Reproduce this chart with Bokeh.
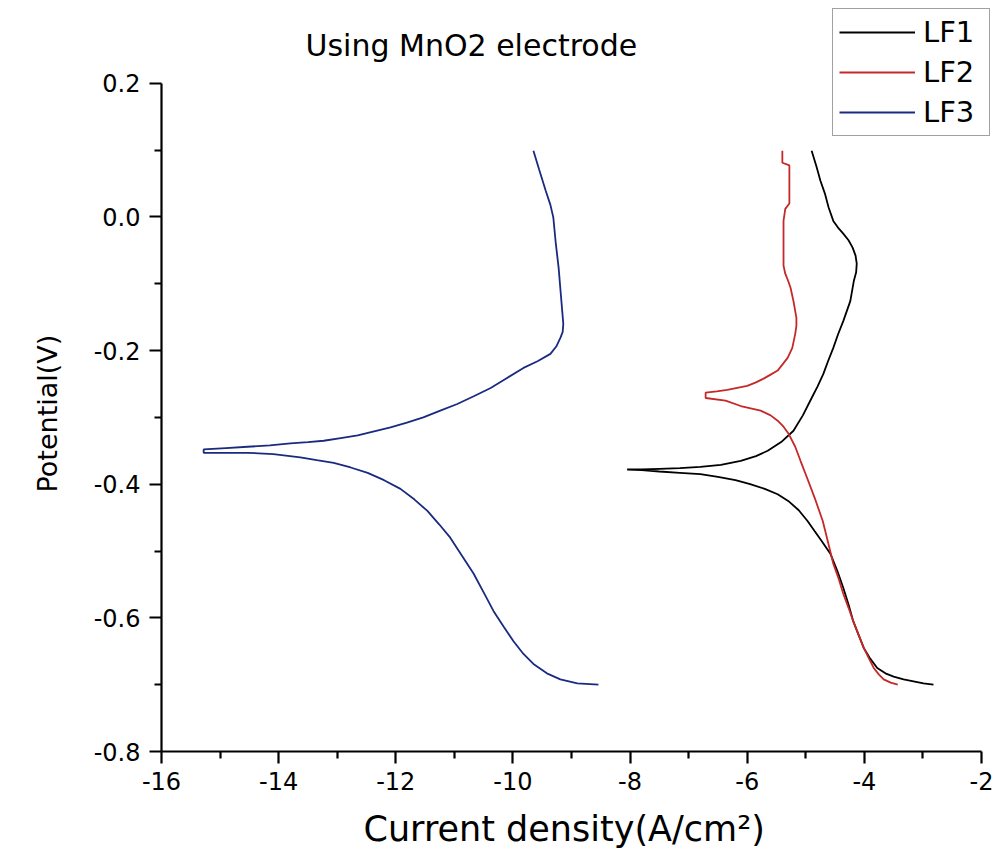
from bokeh.plotting import figure
from bokeh.models import FixedTicker, PrintfTickFormatter, Legend, LegendItem, Range1d, Label, Title
from bokeh.embed import file_html
from bokeh.resources import INLINE

# LF1 (black)
lf1_x = [-4.90, -4.82, -4.75, -4.67, -4.61, -4.53, -4.45, -4.36, -4.27, -4.20, -4.15, -4.13, -4.14, -4.18,
         -4.24, -4.36, -4.45, -4.53, -4.62, -4.70, -4.80, -4.90, -5.05, -5.21, -5.42, -5.65, -5.85, -6.11,
         -6.45, -6.80, -7.15, -7.50, -7.80, -8.05,
         -7.80, -7.50, -7.15, -6.80, -6.50, -6.20, -5.95, -5.70, -5.48, -5.30, -5.12, -4.97, -4.85, -4.72,
         -4.58, -4.46, -4.36, -4.27, -4.19, -4.10, -4.01, -3.90, -3.78, -3.64, -3.50, -3.33, -3.16, -2.99, -2.82]
lf1_y = [0.099, 0.076, 0.054, 0.034, 0.014, -0.006, -0.016, -0.025, -0.035, -0.046, -0.058, -0.070, -0.083, -0.096,
         -0.126, -0.156, -0.176, -0.196, -0.216, -0.235, -0.254, -0.271, -0.297, -0.320, -0.337, -0.350, -0.358, -0.365,
         -0.371, -0.374, -0.376, -0.377, -0.378, -0.378,
         -0.379, -0.381, -0.383, -0.385, -0.389, -0.394, -0.400, -0.407, -0.415, -0.425, -0.439, -0.455, -0.470, -0.486,
         -0.504, -0.530, -0.555, -0.580, -0.605, -0.625, -0.645, -0.661, -0.675, -0.683, -0.688, -0.692, -0.695, -0.698, -0.700]

# LF2 (red)
lf2_x = [-5.40, -5.40, -5.28, -5.28, -5.35, -5.38, -5.38, -5.35, -5.30, -5.26, -5.21, -5.16, -5.16, -5.18, -5.23,
         -5.31, -5.40, -5.48, -5.60, -5.72, -5.86, -6.00, -6.17, -6.34, -6.52, -6.71,
         -6.71, -6.37, -6.11, -5.77, -5.60, -5.48, -5.38, -5.29, -5.18, -5.09, -4.98, -4.85, -4.71, -4.62, -4.53,
         -4.44, -4.36, -4.27, -4.19, -4.10, -4.01, -3.92, -3.84, -3.75, -3.67, -3.55, -3.43]
lf2_y = [0.099, 0.081, 0.077, 0.020, 0.012, -0.006, -0.073, -0.085, -0.096, -0.106, -0.126, -0.151, -0.163, -0.175, -0.196,
         -0.211, -0.221, -0.230, -0.236, -0.242, -0.248, -0.253, -0.256, -0.259, -0.261, -0.263,
         -0.271, -0.275, -0.283, -0.290, -0.297, -0.305, -0.314, -0.325, -0.344, -0.365, -0.390, -0.420, -0.455, -0.487, -0.519,
         -0.541, -0.564, -0.585, -0.605, -0.625, -0.645, -0.661, -0.675, -0.685, -0.692, -0.697, -0.700]

# LF3 (blue)
lf3_x = [-9.65, -9.55, -9.44, -9.36, -9.31, -9.27, -9.22, -9.18, -9.14, -9.15, -9.19, -9.26, -9.36, -9.58, -9.82,
         -10.10, -10.38, -10.66, -10.95, -11.24, -11.53, -11.81, -12.09, -12.37, -12.65, -12.94, -13.23,
         -13.50, -13.80, -14.15, -14.53, -14.90, -15.28,
         -15.28, -14.90, -14.53, -14.09, -13.63, -13.35, -13.06, -12.77, -12.48, -12.20, -11.92, -11.68, -11.46,
         -11.26, -11.07, -10.87, -10.67, -10.50, -10.33, -10.16, -9.99, -9.82, -9.65, -9.42, -9.19, -8.90, -8.54]
lf3_y = [0.099, 0.070, 0.039, 0.018, -0.001, -0.038, -0.076, -0.118, -0.160, -0.172, -0.181, -0.194, -0.205, -0.216, -0.226,
         -0.241, -0.256, -0.268, -0.280, -0.290, -0.300, -0.308, -0.315, -0.321, -0.327, -0.331, -0.335,
         -0.337, -0.339, -0.342, -0.344, -0.346, -0.348,
         -0.353, -0.353, -0.353, -0.355, -0.360, -0.364, -0.368, -0.375, -0.383, -0.394, -0.407, -0.423, -0.440,
         -0.460, -0.480, -0.507, -0.534, -0.562, -0.590, -0.613, -0.635, -0.654, -0.669, -0.683, -0.692, -0.698, -0.700]

x_ticks = [-16, -14, -12, -10, -8, -6, -4, -2]
x_minor = [-15, -13, -11, -9, -7, -5, -3]
y_ticks = [-0.8, -0.6, -0.4, -0.2, 0.0, 0.2]
y_minor = [-0.7, -0.5, -0.3, -0.1, 0.1]

FONT = "DejaVu Sans"

p = figure(width=1005, height=865, output_backend="svg", toolbar_location=None,
           x_range=Range1d(-16, -1.59), y_range=Range1d(-0.8, 0.3238),
           min_border_left=161, min_border_right=0, min_border_top=0, min_border_bottom=114)

p.outline_line_color = None
p.xgrid.visible = False
p.ygrid.visible = False
p.background_fill_color = "white"
p.border_fill_color = "white"

r1 = p.line(lf1_x, lf1_y, line_color="black", line_width=1.8)
r2 = p.line(lf2_x, lf2_y, line_color="#c62828", line_width=1.8)
r3 = p.line(lf3_x, lf3_y, line_color="#1a2a80", line_width=1.8)

p.add_layout(Label(x=-10.71, y=0.256, text="Using MnO2 electrode", text_align="center",
                   text_baseline="middle", text_font=FONT, text_font_size="30px", text_color="black"))

for ax in (p.xaxis[0], p.yaxis[0]):
    ax.axis_line_width = 2.2
    ax.axis_line_color = "black"
    ax.major_tick_line_width = 2.2
    ax.minor_tick_line_width = 2.2
    ax.major_tick_out = 12
    ax.major_tick_in = 0
    ax.minor_tick_out = 7
    ax.minor_tick_in = 0
    ax.major_label_text_font = FONT
    ax.major_label_text_font_size = "24px"
    ax.major_label_text_color = "black"

p.xaxis.bounds = (-16, -2)
p.yaxis.bounds = (-0.8, 0.2)
p.xaxis.ticker = FixedTicker(ticks=x_ticks, minor_ticks=x_minor)
p.yaxis.ticker = FixedTicker(ticks=y_ticks, minor_ticks=y_minor)
p.xaxis.formatter = PrintfTickFormatter(format="%d")
p.yaxis.formatter = PrintfTickFormatter(format="%.1f")
p.xaxis.major_label_standoff = 8
p.yaxis.major_label_standoff = 9

xt = Title(text="Current density(A/cm\u00b2)", align="left", offset=202, standoff=29,
           text_font=FONT, text_font_size="35px", text_font_style="normal", text_color="black")
p.add_layout(xt, "below")
yt = Title(text="Potential(V)", align="left", offset=259, standoff=56,
           text_font=FONT, text_font_size="27px", text_font_style="normal", text_color="black")
p.add_layout(yt, "left")

legend = Legend(items=[LegendItem(label="LF1", renderers=[r1]),
                       LegendItem(label="LF2", renderers=[r2]),
                       LegendItem(label="LF3", renderers=[r3])],
                location=(671, 615))
legend.label_text_font = FONT
legend.label_text_font_size = "29px"
legend.label_text_color = "black"
legend.glyph_width = 76
legend.glyph_height = 30
legend.label_height = 30
legend.label_width = 60
legend.spacing = 6
legend.padding = 6
legend.margin = 0
legend.label_standoff = 8
legend.border_line_color = "#444444"
legend.border_line_width = 1.5
legend.background_fill_alpha = 1.0
p.add_layout(legend, "center")

open("out.html", "w").write(file_html(p, INLINE))
